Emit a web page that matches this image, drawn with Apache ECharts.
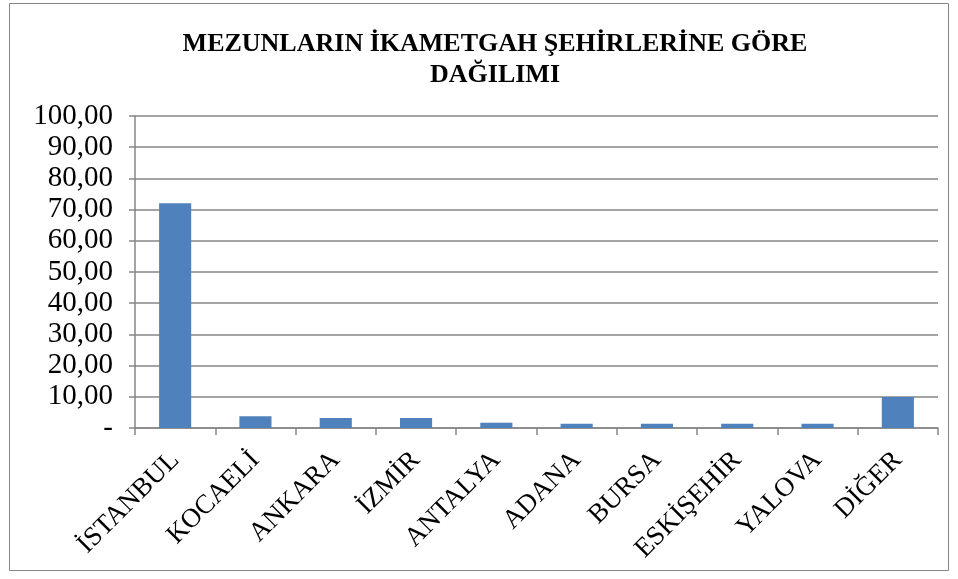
<!DOCTYPE html>
<html><head><meta charset="utf-8">
<script src="https://cdn.jsdelivr.net/npm/echarts@6/dist/echarts.min.js"></script>
<style>html,body{margin:0;padding:0;background:#fff}#c{width:958px;height:579px}</style>
</head><body><div id="c"></div>
<script>
const titleText = 'MEZUNLARIN İKAMETGAH ŞEHİRLERİNE GÖRE\nDAĞILIMI';
const categories = ['İSTANBUL','KOCAELİ','ANKARA','İZMİR','ANTALYA','ADANA','BURSA','ESKİŞEHİR','YALOVA','DİĞER'];
const values = [72.0, 3.8, 3.2, 3.2, 1.7, 1.4, 1.4, 1.4, 1.4, 9.9];

const chart = echarts.init(document.getElementById('c'));
chart.setOption({
  backgroundColor: '#fff',
  animation: false,
  title: {
    text: titleText,
    left: 490, top: 24, textAlign: 'center',
    textStyle: {fontFamily: 'Liberation Serif', fontSize: 26, fontWeight: 'bold', color: '#000', lineHeight: 31}
  },
  graphic: [{
    type: 'rect', shape: {x: 9.5, y: 3.5, width: 939, height: 567},
    style: {fill: 'none', stroke: '#868686', lineWidth: 1}, silent: true
  }],
  grid: {left: 135, right: 20, top: 116, bottom: 151, containLabel: false},
  xAxis: {
    type: 'category', data: categories,
    axisLine: {lineStyle: {color: '#868686', width: 1.5}},
    axisTick: {show: true, alignWithLabel: false, length: 7, lineStyle: {color: '#868686', width: 1.5}},
    axisLabel: {rotate: 45, interval: 0, margin: 28, fontFamily: 'Liberation Serif', fontSize: 27, color: '#000'}
  },
  yAxis: {
    type: 'value', min: 0, max: 100, interval: 10,
    axisLine: {show: true, lineStyle: {color: '#868686', width: 1.5}},
    axisTick: {show: true, length: 6, lineStyle: {color: '#868686', width: 1.5}},
    splitLine: {lineStyle: {color: '#868686', width: 1.5}},
    axisLabel: {
      margin: 22, fontFamily: 'Liberation Serif', fontSize: 29, color: '#000',
      formatter: v => v === 0 ? '-' : v.toFixed(2).replace('.', ',')
    }
  },
  series: [{
    type: 'bar', data: values, barWidth: '40%',
    itemStyle: {color: '#4F81BD'}
  }]
});
</script></body></html>
